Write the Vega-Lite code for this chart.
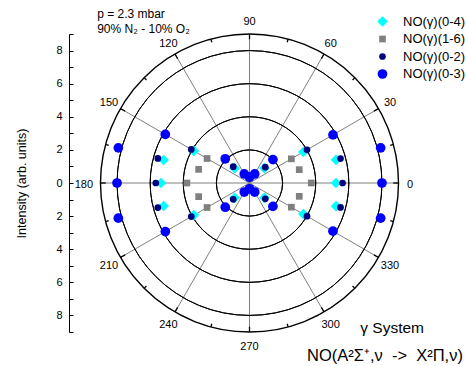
{
  "$schema": "https://vega.github.io/schema/vega-lite/v6.json",
  "width": 361,
  "height": 298,
  "autosize": {"type": "none"},
  "padding": {"left": 69, "top": 34, "right": 36, "bottom": 34},
  "background": "white",
  "config": {
    "view": {"stroke": null},
    "font": "Liberation Sans",
    "axisY": {
      "grid": false,
      "domainColor": "#000",
      "tickColor": "#000",
      "tickSize": -4,
      "labelPadding": 11,
      "labelFont": "Liberation Sans",
      "labelFontSize": 11,
      "labelColor": "#000",
      "labelFlush": false,
      "labelOverlap": false,
      "titleFont": "Liberation Sans",
      "titleFontSize": 12.5,
      "titleFontWeight": "normal",
      "titleColor": "#000",
      "titlePadding": 27
    }
  },
  "layer": [
    {
      "data": {"values": [{"a": 0}, {"a": 30}, {"a": 60}, {"a": 90}, {"a": 120}, {"a": 150}]},
      "transform": [
        {"calculate": "9*cos(datum.a*PI/180)", "as": "x"},
        {"calculate": "9*sin(datum.a*PI/180)", "as": "y"},
        {"calculate": "-datum.x", "as": "x2"},
        {"calculate": "-datum.y", "as": "y2"}
      ],
      "mark": {"type": "rule", "color": "#808080", "strokeWidth": 1},
      "encoding": {
        "x": {"field": "x", "type": "quantitative", "scale": {"domain": [-10.9, 10.9], "nice": false, "zero": false}, "axis": null},
        "y": {"field": "y", "type": "quantitative", "scale": {"domain": [-9, 9], "nice": false, "zero": false},
          "axis": {"title": "Intensity (arb. units)", "values": [-9, -8, -7, -6, -5, -4, -3, -2, -1, 0, 1, 2, 3, 4, 5, 6, 7, 8, 9], "labelExpr": "datum.value % 2 == 0 ? format(abs(datum.value), 'd') : ''"}},
        "x2": {"field": "x2"},
        "y2": {"field": "y2"}
      }
    },
    {
      "data": {"values": [{"r": 2}, {"r": 4}, {"r": 6}, {"r": 8}, {"r": 9}]},
      "transform": [{"calculate": "0", "as": "x"}, {"calculate": "0", "as": "y"}],
      "mark": {"type": "arc", "theta": 0, "theta2": 6.2832, "filled": false, "fill": null, "stroke": "#000"},
      "encoding": {
        "x": {"field": "x", "type": "quantitative", "axis": null},
        "y": {"field": "y", "type": "quantitative",
          "axis": {"title": "Intensity (arb. units)", "values": [-9, -8, -7, -6, -5, -4, -3, -2, -1, 0, 1, 2, 3, 4, 5, 6, 7, 8, 9], "labelExpr": "datum.value % 2 == 0 ? format(abs(datum.value), 'd') : ''"}},
        "radius": {"field": "r", "type": "quantitative", "scale": {"type": "linear", "domain": [0, 9], "range": [0, 149], "zero": true}},
        "radius2": {"field": "r"},
        "strokeWidth": {"condition": {"test": "datum.r === 9", "value": 1.4}, "value": 1}
      }
    },
    {
      "data": {"values": [{"a": 0}, {"a": 15}, {"a": 30}, {"a": 45}, {"a": 60}, {"a": 75}, {"a": 90}, {"a": 105}, {"a": 120}, {"a": 135}, {"a": 150}, {"a": 165}, {"a": 180}, {"a": 195}, {"a": 210}, {"a": 225}, {"a": 240}, {"a": 255}, {"a": 270}, {"a": 285}, {"a": 300}, {"a": 315}, {"a": 330}, {"a": 345}]},
      "transform": [
        {"calculate": "datum.a % 30 === 0 ? 8.68 : 8.8", "as": "ri"},
        {"calculate": "9*cos(datum.a*PI/180)", "as": "x"},
        {"calculate": "9*sin(datum.a*PI/180)", "as": "y"},
        {"calculate": "datum.ri*cos(datum.a*PI/180)", "as": "x2"},
        {"calculate": "datum.ri*sin(datum.a*PI/180)", "as": "y2"}
      ],
      "mark": {"type": "rule", "color": "#000", "strokeWidth": 1.3},
      "encoding": {
        "x": {"field": "x", "type": "quantitative", "axis": null},
        "y": {"field": "y", "type": "quantitative",
          "axis": {"title": "Intensity (arb. units)", "values": [-9, -8, -7, -6, -5, -4, -3, -2, -1, 0, 1, 2, 3, 4, 5, 6, 7, 8, 9], "labelExpr": "datum.value % 2 == 0 ? format(abs(datum.value), 'd') : ''"}},
        "x2": {"field": "x2"}, "y2": {"field": "y2"}
      }
    },
    {
      "data": {"values": [
        {"s": "NO(γ)(0-4)", "a": 0, "r": 5.22}, {"s": "NO(γ)(0-4)", "a": 15, "r": 5.41}, {"s": "NO(γ)(0-4)", "a": 30, "r": 3.76}, {"s": "NO(γ)(0-4)", "a": 45, "r": 1.27},
        {"s": "NO(γ)(0-4)", "a": 345, "r": 5.41}, {"s": "NO(γ)(0-4)", "a": 330, "r": 3.76}, {"s": "NO(γ)(0-4)", "a": 315, "r": 1.27},
        {"s": "NO(γ)(0-4)", "a": 180, "r": 5.34}, {"s": "NO(γ)(0-4)", "a": 165, "r": 5.37}, {"s": "NO(γ)(0-4)", "a": 150, "r": 3.88}, {"s": "NO(γ)(0-4)", "a": 135, "r": 1.27},
        {"s": "NO(γ)(0-4)", "a": 195, "r": 5.37}, {"s": "NO(γ)(0-4)", "a": 210, "r": 3.88}, {"s": "NO(γ)(0-4)", "a": 225, "r": 1.27},
        {"s": "NO(γ)(1-6)", "a": 0, "r": 3.73}, {"s": "NO(γ)(1-6)", "a": 15, "r": 3.11}, {"s": "NO(γ)(1-6)", "a": 30, "r": 2.92},
        {"s": "NO(γ)(1-6)", "a": 345, "r": 3.11}, {"s": "NO(γ)(1-6)", "a": 330, "r": 2.92},
        {"s": "NO(γ)(1-6)", "a": 180, "r": 3.78}, {"s": "NO(γ)(1-6)", "a": 165, "r": 3.18}, {"s": "NO(γ)(1-6)", "a": 150, "r": 2.96},
        {"s": "NO(γ)(1-6)", "a": 195, "r": 3.18}, {"s": "NO(γ)(1-6)", "a": 210, "r": 2.96},
        {"s": "NO(γ)(0-2)", "a": 0, "r": 5.62}, {"s": "NO(γ)(0-2)", "a": 15, "r": 5.69}, {"s": "NO(γ)(0-2)", "a": 30, "r": 4.01}, {"s": "NO(γ)(0-2)", "a": 45, "r": 1.35},
        {"s": "NO(γ)(0-2)", "a": 345, "r": 5.69}, {"s": "NO(γ)(0-2)", "a": 330, "r": 4.01}, {"s": "NO(γ)(0-2)", "a": 315, "r": 1.35},
        {"s": "NO(γ)(0-2)", "a": 180, "r": 5.66}, {"s": "NO(γ)(0-2)", "a": 165, "r": 5.73}, {"s": "NO(γ)(0-2)", "a": 150, "r": 4.06}, {"s": "NO(γ)(0-2)", "a": 135, "r": 1.39},
        {"s": "NO(γ)(0-2)", "a": 195, "r": 5.73}, {"s": "NO(γ)(0-2)", "a": 210, "r": 4.06}, {"s": "NO(γ)(0-2)", "a": 225, "r": 1.39},
        {"s": "NO(γ)(0-3)", "a": 0, "r": 8.0}, {"s": "NO(γ)(0-3)", "a": 15, "r": 8.2}, {"s": "NO(γ)(0-3)", "a": 30, "r": 5.82}, {"s": "NO(γ)(0-3)", "a": 45, "r": 2.0},
        {"s": "NO(γ)(0-3)", "a": 345, "r": 8.2}, {"s": "NO(γ)(0-3)", "a": 330, "r": 5.82}, {"s": "NO(γ)(0-3)", "a": 315, "r": 2.0},
        {"s": "NO(γ)(0-3)", "a": 180, "r": 8.0}, {"s": "NO(γ)(0-3)", "a": 165, "r": 8.2}, {"s": "NO(γ)(0-3)", "a": 150, "r": 5.87}, {"s": "NO(γ)(0-3)", "a": 135, "r": 2.07},
        {"s": "NO(γ)(0-3)", "a": 195, "r": 8.2}, {"s": "NO(γ)(0-3)", "a": 210, "r": 5.87}, {"s": "NO(γ)(0-3)", "a": 225, "r": 2.07},
        {"s": "NO(γ)(0-3)", "a": 60, "r": 0.63}, {"s": "NO(γ)(0-3)", "a": 120, "r": 0.63}, {"s": "NO(γ)(0-3)", "a": 90, "r": 0.35},
        {"s": "NO(γ)(0-3)", "a": 240, "r": 0.63}, {"s": "NO(γ)(0-3)", "a": 300, "r": 0.63}, {"s": "NO(γ)(0-3)", "a": 270, "r": 0.35}
      ]},
      "transform": [
        {"calculate": "datum.r*cos(datum.a*PI/180)", "as": "x"},
        {"calculate": "datum.r*sin(datum.a*PI/180)", "as": "y"}
      ],
      "mark": {"type": "point", "filled": true, "opacity": 1, "strokeWidth": 0},
      "encoding": {
        "x": {"field": "x", "type": "quantitative", "axis": null},
        "y": {"field": "y", "type": "quantitative",
          "axis": {"title": "Intensity (arb. units)", "values": [-9, -8, -7, -6, -5, -4, -3, -2, -1, 0, 1, 2, 3, 4, 5, 6, 7, 8, 9], "labelExpr": "datum.value % 2 == 0 ? format(abs(datum.value), 'd') : ''"}},
        "color": {"field": "s", "type": "nominal",
          "scale": {"domain": ["NO(γ)(0-4)", "NO(γ)(1-6)", "NO(γ)(0-2)", "NO(γ)(0-3)"], "range": ["#00FFFF", "#808080", "#000080", "#0000FF"]},
          "legend": {"title": null, "orient": "none", "legendX": 307, "legendY": -19, "labelFont": "Liberation Sans", "labelFontSize": 13, "labelColor": "#000", "rowPadding": 3.5, "labelOffset": 14, "symbolStrokeWidth": 0}},
        "shape": {"field": "s", "type": "nominal",
          "scale": {"domain": ["NO(γ)(0-4)", "NO(γ)(1-6)", "NO(γ)(0-2)", "NO(γ)(0-3)"], "range": ["diamond", "square", "circle", "circle"]},
          "legend": {"title": null, "orient": "none", "legendX": 307, "legendY": -19, "labelFont": "Liberation Sans", "labelFontSize": 13, "labelColor": "#000", "rowPadding": 3.5, "labelOffset": 14, "symbolStrokeWidth": 0}},
        "size": {"field": "s", "type": "nominal",
          "scale": {"type": "ordinal", "domain": ["NO(γ)(0-4)", "NO(γ)(1-6)", "NO(γ)(0-2)", "NO(γ)(0-3)"], "range": [115, 45, 45, 95]},
          "legend": {"title": null, "orient": "none", "legendX": 307, "legendY": -19, "labelFont": "Liberation Sans", "labelFontSize": 13, "labelColor": "#000", "rowPadding": 3.5, "labelOffset": 14, "symbolStrokeWidth": 0}}
      }
    },
    {
      "data": {"values": [{"a": 0, "t": "0"}, {"a": 30, "t": "30"}, {"a": 60, "t": "60"}, {"a": 90, "t": "90"}, {"a": 120, "t": "120"}, {"a": 150, "t": "150"}, {"a": 180, "t": "180"}, {"a": 210, "t": "210"}, {"a": 240, "t": "240"}, {"a": 270, "t": "270"}, {"a": 300, "t": "300"}, {"a": 330, "t": "330"}]},
      "transform": [
        {"calculate": "datum.a === 0 ? 9.7 : datum.a === 180 ? 10.0 : 9.8", "as": "lr"},
        {"calculate": "datum.lr*cos(datum.a*PI/180)", "as": "x"},
        {"calculate": "datum.lr*sin(datum.a*PI/180)", "as": "y"}
      ],
      "mark": {"type": "text", "font": "Liberation Sans", "fontSize": 11, "color": "#000", "align": "center", "baseline": "middle", "dy": 1.5},
      "encoding": {
        "x": {"field": "x", "type": "quantitative", "axis": null},
        "y": {"field": "y", "type": "quantitative",
          "axis": {"title": "Intensity (arb. units)", "values": [-9, -8, -7, -6, -5, -4, -3, -2, -1, 0, 1, 2, 3, 4, 5, 6, 7, 8, 9], "labelExpr": "datum.value % 2 == 0 ? format(abs(datum.value), 'd') : ''"}},
        "text": {"field": "t"}
      }
    },
    {
      "data": {"values": [{"t": "p = 2.3 mbar"}]},
      "mark": {"type": "text", "font": "Liberation Sans", "fontSize": 12, "color": "#000", "align": "left", "baseline": "middle"},
      "encoding": {
        "x": {"datum": -9.2, "type": "quantitative", "axis": null},
        "y": {"datum": 10.23, "type": "quantitative",
          "axis": {"title": "Intensity (arb. units)", "values": [-9, -8, -7, -6, -5, -4, -3, -2, -1, 0, 1, 2, 3, 4, 5, 6, 7, 8, 9], "labelExpr": "datum.value % 2 == 0 ? format(abs(datum.value), 'd') : ''"}},
        "text": {"field": "t"}
      }
    },
    {
      "data": {"values": [{"t": "90% N₂ - 10% O₂"}]},
      "mark": {"type": "text", "font": "Liberation Sans", "fontSize": 12, "color": "#000", "align": "left", "baseline": "middle"},
      "encoding": {
        "x": {"datum": -9.2, "type": "quantitative", "axis": null},
        "y": {"datum": 9.33, "type": "quantitative",
          "axis": {"title": "Intensity (arb. units)", "values": [-9, -8, -7, -6, -5, -4, -3, -2, -1, 0, 1, 2, 3, 4, 5, 6, 7, 8, 9], "labelExpr": "datum.value % 2 == 0 ? format(abs(datum.value), 'd') : ''"}},
        "text": {"field": "t"}
      }
    },
    {
      "data": {"values": [{"t": "γ System"}]},
      "mark": {"type": "text", "font": "Liberation Sans", "fontSize": 15.5, "color": "#000", "align": "left", "baseline": "middle"},
      "encoding": {
        "x": {"datum": 6.69, "type": "quantitative", "axis": null},
        "y": {"datum": -8.74, "type": "quantitative",
          "axis": {"title": "Intensity (arb. units)", "values": [-9, -8, -7, -6, -5, -4, -3, -2, -1, 0, 1, 2, 3, 4, 5, 6, 7, 8, 9], "labelExpr": "datum.value % 2 == 0 ? format(abs(datum.value), 'd') : ''"}},
        "text": {"field": "t"}
      }
    },
    {
      "data": {"values": [{"t": "NO(A²Σ⁺,ν\u00a0 ->\u00a0 X²Π,ν)"}]},
      "mark": {"type": "text", "font": "Liberation Sans", "fontSize": 16.5, "color": "#000", "align": "left", "baseline": "middle"},
      "encoding": {
        "x": {"datum": 3.47, "type": "quantitative", "axis": null},
        "y": {"datum": -10.43, "type": "quantitative",
          "axis": {"title": "Intensity (arb. units)", "values": [-9, -8, -7, -6, -5, -4, -3, -2, -1, 0, 1, 2, 3, 4, 5, 6, 7, 8, 9], "labelExpr": "datum.value % 2 == 0 ? format(abs(datum.value), 'd') : ''"}},
        "text": {"field": "t"}
      }
    }
  ]
}
